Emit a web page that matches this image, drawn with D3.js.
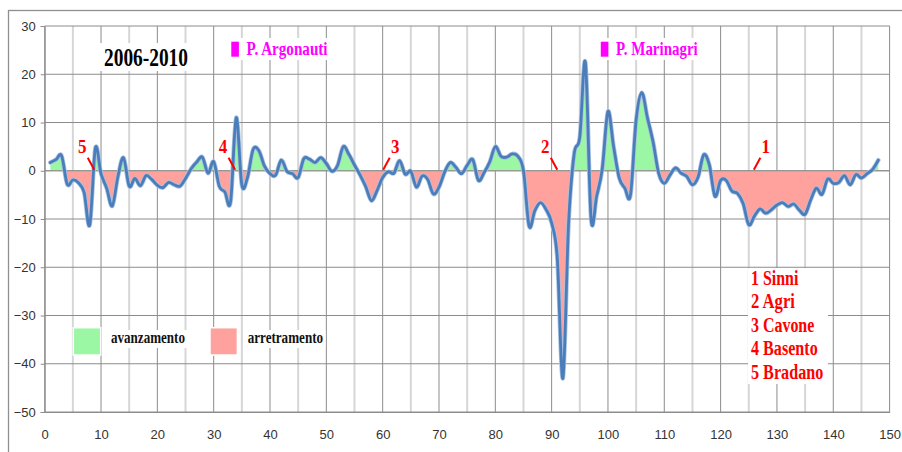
<!DOCTYPE html>
<html>
<head>
<meta charset="utf-8">
<script src="https://cdn.jsdelivr.net/npm/d3@7"></script>
<style>
  body { margin: 0; background: #fff; }
  svg { display: block; }
</style>
</head>
<body>
<svg id="chart" width="902" height="452"></svg>
<script>
// Shoreline change (m) per coastal section, sections numbered from 1
const shoreValues = [
  1.7, 2.3, 3.1, -2.8, -1.9, -2.5, -4.5, -11.2, 4.7, -0.6,
  -3.6, -7.3, -1.2, 2.7, -3.2, -1.6, -3.1, -1.0, -1.8, -3.0,
  -3.5, -2.4, -2.9, -3.2, -1.6, 0.4, 1.8, 2.8, -0.5, 1.9,
  -3.2, -4.4, -6.4, 11.0, -2.9, -1.4, 4.4, 4.2, 1.0, -0.6,
  -0.9, 2.2, -0.1, -0.6, -1.4, 2.5, 2.4, 1.7, 2.7, 1.5,
  -0.1, 1.1, 5.0, 3.4, 1.2, -0.9, -3.3, -6.2, -4.1, -1.4,
  -0.2, -0.5, 2.1, -0.7, -0.1, -3.4, -1.1, -1.8, -4.8, -3.4,
  -0.3, 1.7, 0.7, -0.6, 1.1, 2.3, -2.0, -0.4, 1.8, 5.0,
  3.0, 2.8, 3.5, 3.0, 0.0, -11.5, -8.3, -6.6, -8.0, -10.8,
  -18.0, -43.0, -11.0, 3.5, 7.0, 22.4, -9.9, -5.2, 0.5, 12.3,
  5.0, -1.5, -3.6, -5.0, 10.5, 16.2, 11.0, 6.0, -0.5, -2.6,
  -0.9, 0.6, -0.5, -1.2, -2.9, -1.3, 3.3, 1.2, -5.3, -2.0,
  -2.0, -4.2, -4.7, -6.8, -11.2, -9.4, -7.9, -8.8, -8.1, -7.1,
  -6.6, -7.4, -6.9, -8.2, -9.0, -6.0, -3.6, -4.9, -1.7, -2.6,
  -2.4, -1.0, -2.9, -0.8, -1.5, -0.6, 0.3, 2.2
];

const xTicks = [0, 10, 20, 30, 40, 50, 60, 70, 80, 90, 100, 110, 120, 130, 140, 150];
const xMinorTicks = [5, 15, 25, 35, 45, 55, 65, 75, 85, 95, 105, 115, 125, 135, 145];
const yTicks = [30, 20, 10, 0, -10, -20, -30, -40, -50];

const periodLabel = "2006-2010";

// Ports along the coast (section position)
const portNames = ["P. Argonauti", "P. Marinagri"];
const portSections = [33.8, 99.4];

// River mouths (section position), numbered as in the key
const riverNames = ["Sinni", "Agri", "Cavone", "Basento", "Bradano"];
const riverMouths = [125.9, 91.0, 60.1, 33.8, 8.8];

const legendLabels = ["avanzamento", "arretramento"];

// ---- layout ----
const svg = d3.select("#chart");
const W = 902, H = 452;
const plot = { left: 44.7, right: 889.6, top: 26, bottom: 412 };

const x = d3.scaleLinear().domain([0, 150]).range([plot.left, plot.right]);
const y = d3.scaleLinear().domain([-50, 30]).range([plot.bottom, plot.top]);

const serif = "'Liberation Serif', 'Times New Roman', serif";
const narrow = "'Liberation Sans Narrow', 'Arial Narrow', 'Liberation Sans', sans-serif";
const greenFill = "#9cf7a4";
const redFill = "#ffa19c";

// outer frame
svg.append("rect")
  .attr("x", 8.5).attr("y", 10.5)
  .attr("width", 900).attr("height", 450)
  .attr("fill", "#fff").attr("stroke", "#8f8f8f").attr("stroke-width", 1.3);

// grid
const grid = svg.append("g");
grid.selectAll("line.minor").data(xMinorTicks).join("line")
  .attr("class", "minor")
  .attr("x1", d => x(d)).attr("x2", d => x(d))
  .attr("y1", plot.top).attr("y2", plot.bottom)
  .attr("stroke", "#d6d6d6").attr("stroke-width", 2);
grid.selectAll("line.major").data(xTicks).join("line")
  .attr("class", "major")
  .attr("x1", d => x(d)).attr("x2", d => x(d))
  .attr("y1", plot.top).attr("y2", plot.bottom)
  .attr("stroke", "#8c8c8c").attr("stroke-width", 1);
grid.selectAll("line.h").data(yTicks).join("line")
  .attr("class", "h")
  .attr("x1", plot.left).attr("x2", plot.right)
  .attr("y1", d => y(d)).attr("y2", d => y(d))
  .attr("stroke", "#8c8c8c").attr("stroke-width", 1);

// axes
const yAxis = svg.append("g")
  .attr("transform", `translate(${plot.left},0)`)
  .call(d3.axisLeft(y).tickValues(yTicks).tickSize(4).tickPadding(5));
yAxis.select(".domain").attr("stroke", "#8c8c8c");
yAxis.selectAll(".tick line").attr("stroke", "#8c8c8c");
yAxis.selectAll("text")
  .attr("font-family", narrow).attr("font-size", 13).attr("fill", "#333");

const xAxis = svg.append("g")
  .attr("transform", `translate(0,${plot.bottom})`)
  .call(d3.axisBottom(x).tickValues(xTicks).tickSize(0).tickPadding(18));
xAxis.select(".domain").attr("stroke", "#8c8c8c");
xAxis.selectAll("text")
  .attr("font-family", narrow).attr("font-size", 13).attr("fill", "#333");

// clip regions above / below zero
const defs = svg.append("defs");
defs.append("clipPath").attr("id", "above")
  .append("rect").attr("x", plot.left).attr("y", plot.top)
  .attr("width", plot.right - plot.left).attr("height", y(0) - plot.top);
defs.append("clipPath").attr("id", "below")
  .append("rect").attr("x", plot.left).attr("y", y(0))
  .attr("width", plot.right - plot.left).attr("height", plot.bottom - y(0));

const pts = shoreValues.map((v, i) => ({ s: i + 1, v }));

const area = d3.area()
  .x(d => x(d.s)).y0(y(0)).y1(d => y(d.v))
  .curve(d3.curveLinear);

svg.append("path").datum(pts)
  .attr("d", area).attr("fill", greenFill).attr("clip-path", "url(#above)");
svg.append("path").datum(pts)
  .attr("d", area).attr("fill", redFill).attr("clip-path", "url(#below)");

// zero line over the fills
svg.append("line")
  .attr("x1", plot.left).attr("x2", plot.right)
  .attr("y1", y(0)).attr("y2", y(0))
  .attr("stroke", "#8c8c8c").attr("stroke-width", 1);

const line = d3.line()
  .x(d => x(d.s)).y(d => y(d.v))
  .curve(d3.curveCardinal.tension(0));

svg.append("path").datum(pts)
  .attr("d", line).attr("fill", "none")
  .attr("stroke", "#a8c2e2").attr("stroke-width", 4.4)
  .attr("stroke-linejoin", "round").attr("stroke-linecap", "round");
svg.append("path").datum(pts)
  .attr("d", line).attr("fill", "none")
  .attr("stroke", "#4a7dba").attr("stroke-width", 2.8)
  .attr("stroke-linejoin", "round").attr("stroke-linecap", "round");

// helper: bold serif text squeezed to a given width
function label(g, txt, px, py, size, width, color, anchor) {
  return g.append("text")
    .attr("x", px).attr("y", py)
    .attr("font-family", serif).attr("font-weight", "bold")
    .attr("font-size", size).attr("fill", color)
    .attr("text-anchor", anchor || "start")
    .attr("textLength", width).attr("lengthAdjust", "spacingAndGlyphs")
    .text(txt);
}

// period title
svg.append("rect").attr("x", 100).attr("y", 43).attr("width", 92).attr("height", 28).attr("fill", "#fff");
label(svg, periodLabel, 104, 66, 25, 84, "#000");

// ports
const portTextWidth = [81, 81.6];
portNames.forEach((name, i) => {
  const cx = x(portSections[i]);
  svg.append("rect").attr("x", cx - 6).attr("y", 38).attr("width", 104).attr("height", 22).attr("fill", "#fff");
  svg.append("rect").attr("x", cx - 3.8).attr("y", 41.7).attr("width", 7.6).attr("height", 15).attr("fill", "#ff00ff");
  label(svg, name, cx + 11.5, 55, 18, portTextWidth[i], "#ff00ff");
});

// river mouth markers
const markerSide = [1, -1, 1, -1, -1];
riverMouths.forEach((m, i) => {
  const bx = x(m), side = markerSide[i];
  const by = y(0) - 1;
  svg.append("line")
    .attr("x1", bx).attr("y1", by)
    .attr("x2", bx + side * 6.5).attr("y2", by - 12)
    .attr("stroke", "#ff0000").attr("stroke-width", 2);
  svg.append("text")
    .attr("x", bx + side * 12).attr("y", 153)
    .attr("text-anchor", "middle")
    .attr("font-family", serif).attr("font-weight", "bold")
    .attr("font-size", 19).attr("fill", "#ff0000")
    .attr("textLength", 8.5).attr("lengthAdjust", "spacingAndGlyphs")
    .text(String(i + 1));
});

// river key
svg.append("rect").attr("x", 748).attr("y", 268).attr("width", 80).attr("height", 116).attr("fill", "#fff");
const keyWidths = [47.3, 44, 63.3, 66.7, 72.3];
const keyBase = [285, 307.8, 331.5, 355, 379];
riverNames.forEach((n, i) => {
  label(svg, `${i + 1} ${n}`, 751, keyBase[i], 20, keyWidths[i], "#ff0000");
});

// fill legend
const legendX = [73.3, 210];
const legendTextW = [74, 75.4];
[greenFill, redFill].forEach((c, i) => {
  svg.append("rect").attr("x", legendX[i]).attr("y", 327.7).attr("width", 27.4).attr("height", 27.3)
    .attr("fill", c).attr("stroke", "#fff").attr("stroke-width", 1.5);
  svg.append("rect").attr("x", legendX[i] + 36).attr("y", 330).attr("width", legendTextW[i] + 4).attr("height", 18).attr("fill", "#fff");
  label(svg, legendLabels[i], legendX[i] + 37.7, 343.3, 17, legendTextW[i], "#111");
});
</script>
</body>
</html>
